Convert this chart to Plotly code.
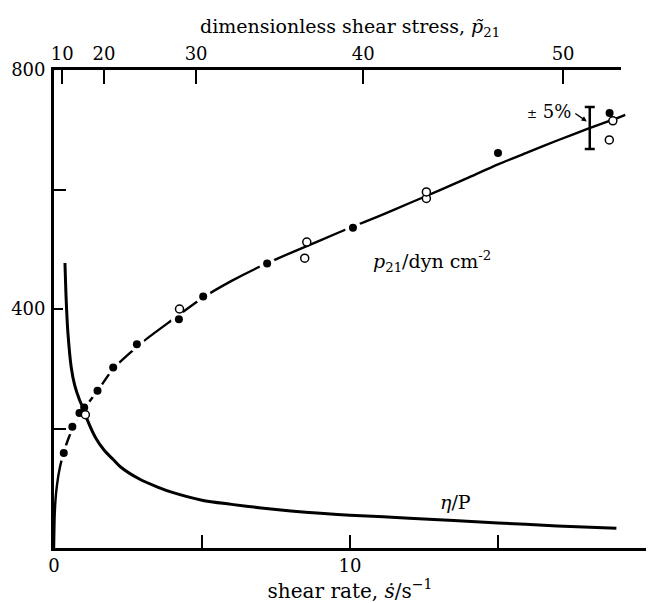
import plotly.graph_objects as go

# Shear rate (1/s) and shear stress p21 (dyn/cm^2): smooth fitted curve
fit_rate = [0, 0.02, 0.05, 0.1, 0.2, 0.33, 0.5, 0.75, 1.0, 1.5, 2.0, 3.0, 4.0,
            5.0, 6.0, 7.0, 8.0, 9.0, 10.0, 11.0, 12.0, 13.0, 14.0, 15.0, 16.0,
            17.0, 18.0, 19.0, 19.3]
fit_p21 = [0, 50, 80, 105, 135, 160, 185, 212, 232, 265, 300, 345, 382,
           418, 447, 472, 494, 515, 536, 556, 577, 598, 620, 642, 662,
           682, 701, 719, 725]

# Measured stresses: two series (filled and open symbols)
filled_rate = [0.33, 0.62, 0.86, 1.02, 1.47, 2.0, 2.8, 4.22, 5.04, 7.2, 10.1, 15.0, 18.77]
filled_p21 = [159, 203, 226, 235, 263, 302, 341, 383, 421, 476, 536, 661, 728]
open_rate = [1.06, 4.24, 8.47, 8.54, 12.58, 12.58, 18.76, 18.88]
open_p21 = [223, 400, 485, 512, 585, 596, 683, 715]

# Viscosity eta (P) against shear rate
eta_rate = [0.37, 0.40, 0.43, 0.47, 0.58, 0.7, 0.86, 1.0, 1.13, 1.4, 1.69, 2.0,
            2.24, 2.9, 3.5, 4.0, 5.0, 6.0, 7.0, 8.0, 9.0, 10.0, 12.0, 15.0,
            17.0, 19.0]
eta_vals = [477, 430, 395, 360, 303, 272, 248, 232, 214, 185, 164, 148,
            136, 115, 102, 93, 80, 73, 67, 62, 58, 55, 50, 42,
            37, 33]

# Representative +/-5 % error bar
err_rate = [18.1]
err_p21 = [703]
err_percent = 5

# Dimensionless shear stress scale along the top (shear-rate positions)
top_tick_rate = [0.28, 1.69, 4.8, 10.45, 17.2]
top_tick_text = ["10", "20", "30", "40", "50"]

bottom_label_vals = [0, 10, 20]
bottom_minor_vals = [5, 15]
left_label_vals = [400, 800]
left_minor_vals = [200, 600]

FONT = "DejaVu Serif"
INK = "black"

fig = go.Figure()

# fitted stress curve
fig.add_trace(go.Scatter(x=fit_rate, y=fit_p21, mode="lines",
                         line=dict(color=INK, width=2.4, shape="spline",
                                   smoothing=0.6),
                         hoverinfo="skip"))

# white halos break the fitted line around the low-rate points
halo_x = [x for x in filled_rate if x <= 10.5]
halo_y = [y for x, y in zip(filled_rate, filled_p21) if x <= 10.5]
fig.add_trace(go.Scatter(x=halo_x, y=halo_y, mode="markers",
                         marker=dict(size=16, color="white"), hoverinfo="skip"))

# viscosity curve
fig.add_trace(go.Scatter(x=eta_rate, y=eta_vals, mode="lines",
                         line=dict(color=INK, width=3, shape="spline",
                                   smoothing=0.8),
                         hoverinfo="skip"))

fig.add_trace(go.Scatter(x=filled_rate, y=filled_p21, mode="markers",
                         marker=dict(size=8, color=INK)))
fig.add_trace(go.Scatter(x=open_rate, y=open_p21, mode="markers",
                         marker=dict(size=8, color="white",
                                     line=dict(color=INK, width=1.5))))

fig.add_trace(go.Scatter(x=err_rate, y=err_p21, mode="markers",
                         marker=dict(size=1, color="rgba(0,0,0,0)"),
                         error_y=dict(type="percent", value=err_percent,
                                      color=INK, thickness=2.5, width=5)))

# carrier for the top axis
fig.add_trace(go.Scatter(x=[], y=[], xaxis="x2", yaxis="y", mode="markers"))

axis_common = dict(showline=True, linecolor=INK, showgrid=False, zeroline=False,
                   ticks="inside", tickcolor=INK,
                   tickfont=dict(family=FONT, size=18, color=INK))

fig.update_layout(
    width=657, height=603,
    margin=dict(l=46, r=11, t=70, b=55),
    paper_bgcolor="white", plot_bgcolor="rgba(0,0,0,0)",
    showlegend=False,
    font=dict(family=FONT, color=INK),
    xaxis=dict(range=[0, 20], domain=[0, 1], linewidth=2.5,
               tickvals=bottom_label_vals,
               ticklen=13, tickwidth=1.5,
               minor=dict(tickvals=bottom_minor_vals, ticks="inside",
                          ticklen=13, tickwidth=1.5, tickcolor=INK,
                          showgrid=False),
               title=dict(text="shear rate, <i>ṡ</i>/s<sup>−1</sup>",
                          font=dict(family=FONT, size=20, color=INK),
                          standoff=2),
               **axis_common),
    xaxis2=dict(range=[0, 19.14], domain=[0, 0.957], anchor="y", side="top",
                linewidth=2.5, tickvals=top_tick_rate, ticktext=top_tick_text,
                ticklen=14, tickwidth=1.5, **axis_common),
    yaxis=dict(range=[0, 800], linewidth=2.8,
               tickvals=left_label_vals,
               ticklen=9, tickwidth=1.5, ticklabelstandoff=2,
               minor=dict(tickvals=left_minor_vals, ticks="inside",
                          ticklen=12, tickwidth=1.5, tickcolor=INK,
                          showgrid=False),
               **axis_common),
)

fig.add_annotation(text="dimensionless shear stress, <i>p̃</i><sub>21</sub>",
                   xref="paper", yref="paper", x=0.5, y=1.088,
                   xanchor="center", yanchor="middle", showarrow=False,
                   font=dict(family=FONT, size=19, color=INK))
fig.add_annotation(text="<i>p</i><sub>21</sub>/dyn cm<sup>-2</sup>",
                   x=10.7, y=479, xanchor="left", yanchor="middle",
                   showarrow=False, font=dict(family=FONT, size=19, color=INK))
fig.add_annotation(text="<i>η</i>/P", x=12.97, y=77, xanchor="left",
                   yanchor="middle", showarrow=False,
                   font=dict(family=FONT, size=19, color=INK))
fig.add_annotation(text="<span style='font-size:12px'>±</span> 5%",
                   x=17.55, y=730, xanchor="right", yanchor="middle",
                   showarrow=False, font=dict(family=FONT, size=18, color=INK))
fig.add_annotation(text="", x=18.0, y=714, ax=-13, ay=-9, showarrow=True,
                   arrowhead=2, arrowsize=0.8, arrowwidth=1.3, arrowcolor=INK)

fig.write_html("out.html")
